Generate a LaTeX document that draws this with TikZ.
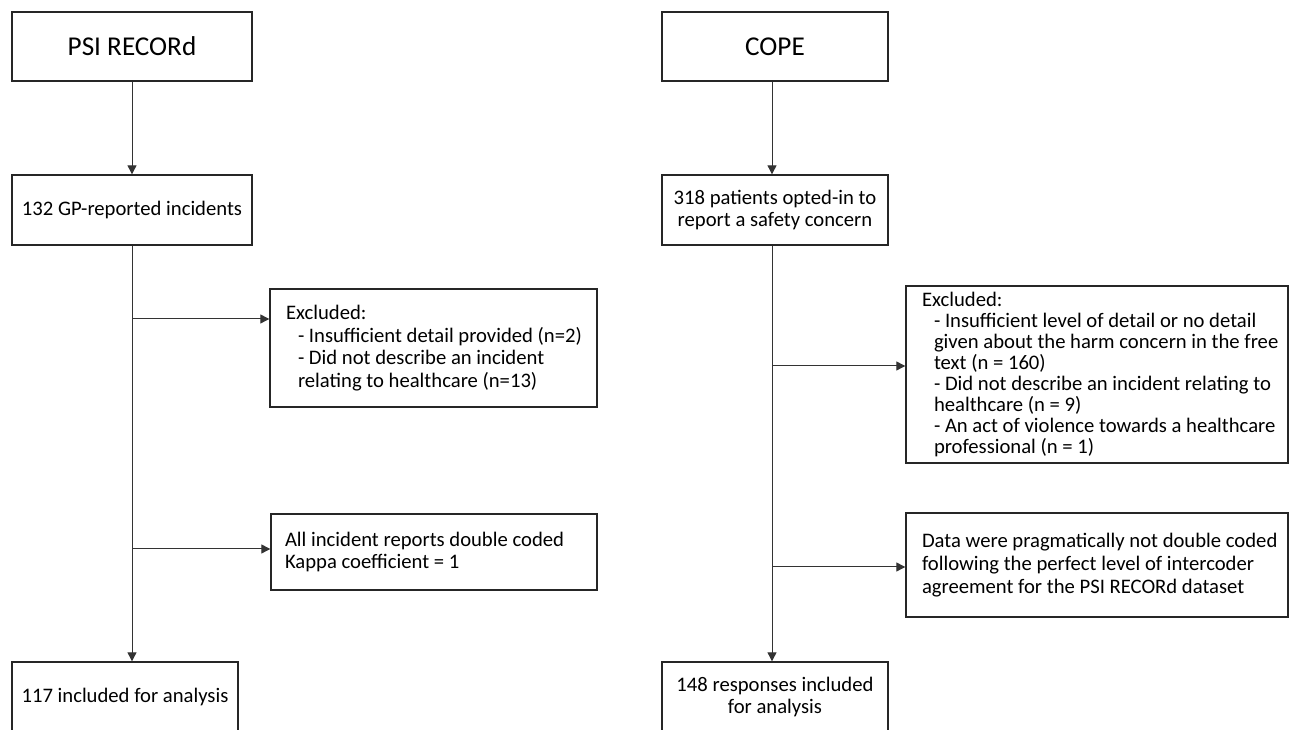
\documentclass[tikz,border=0pt]{standalone}
\usepackage{fontspec}
\setmainfont{Carlito}
\usetikzlibrary{arrows.meta}
\newcommand{\exind}{\hspace*{9pt}}
\tikzset{
 stage/.style={draw=black!85,line width=1pt,fill=white,inner sep=0,align=center,minimum width=180pt,minimum height=52.5pt,font=\fontsize{15.5}{17}\selectfont},
 source/.style={stage,minimum height=51.75pt,font=\fontsize{20.4}{24}\selectfont},
 note/.style={draw=black!85,line width=1pt,fill=white,inner sep=0,align=flush left,font=\fontsize{15.5}{17}\selectfont},
 flow/.style={draw=black!80,line width=.75pt,-{Triangle[length=6.75pt,width=6.75pt]}}
}

\begin{document}
\begin{tikzpicture}[x=.75pt,y=-.75pt]
\path[use as bounding box] (0,0) rectangle (1290,730);
% PSI RECORd column
\node[source] (psi) at (132,46.5) {PSI RECORd};
\node[stage] (gp) at (132,210) {132 GP-reported incidents};
\node[stage,minimum width=169.5pt] (inc) at (125,697) {117 included for analysis};
\node[note,text width=245.25pt,minimum height=88.5pt] (exclA) at (433.5,348)
 {\leftskip=12pt Excluded:\\\exind- Insufficient detail provided (n=2)\\\exind- Did not describe an incident\\\exind relating to healthcare (n=13)\par};
\node[note,text width=244.5pt,minimum height=57pt] (kappa) at (434,552)
 {\leftskip=10.5pt All incident reports double coded\\Kappa coefficient = 1\par};
\coordinate (brA1) at (132,319);
\coordinate (brA2) at (132,549);
\draw[flow] (psi) -- (gp);
\draw[flow] (gp.south) -- (gp.south |- inc.north);
\draw[flow] (brA1) -- (brA1 -| exclA.west);
\draw[flow] (brA2) -- (brA2 -| kappa.west);
% COPE column
\node[source,minimum width=169.5pt] (cope) at (775,46.5) {COPE};
\node[stage,minimum width=169.5pt] (pat) at (775,210) {318 patients opted-in to\\report a safety concern};
\node[stage,minimum width=169.5pt] (resp) at (775,697) {148 responses included\\for analysis};
\node[note,text width=286.5pt,minimum height=132.75pt,font=\fontsize{15.5}{15.8}\selectfont] (exclB) at (1097,374.5)
 {\leftskip=12pt Excluded:\\\exind- Insufficient level of detail or no detail\\\exind given about the harm concern in the free\\\exind text (n = 160)\\\exind- Did not describe an incident relating to\\\exind healthcare (n = 9)\\\exind- An act of violence towards a healthcare\\\exind professional (n = 1)\par};
\node[note,text width=286.5pt,minimum height=78pt] (data) at (1097,565)
 {\leftskip=12pt Data were pragmatically not double coded\\following the perfect level of intercoder\\agreement for the PSI RECORd dataset\par};
\coordinate (brB1) at (772,366);
\coordinate (brB2) at (772,567);
\draw[flow] (brB1 |- cope.south) -- (brB1 |- pat.north);
\draw[flow] (brB1 |- pat.south) -- (brB1 |- resp.north);
\draw[flow] (brB1) -- (brB1 -| exclB.west);
\draw[flow] (brB2) -- (brB2 -| data.west);
\end{tikzpicture}
\end{document}
